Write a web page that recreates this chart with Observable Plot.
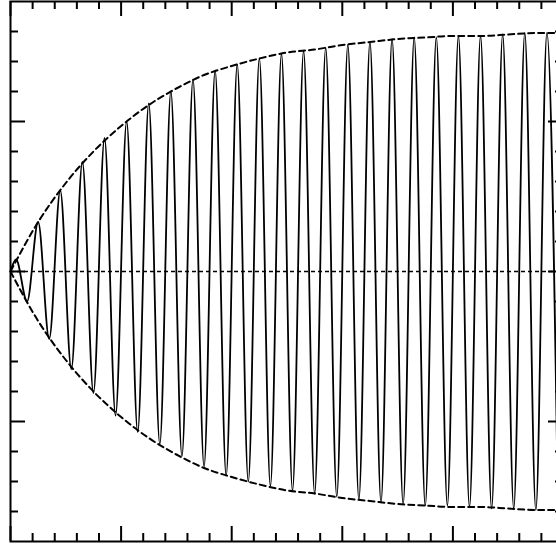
<!DOCTYPE html>
<html>
<head>
<meta charset="utf-8">
<script src="https://cdn.jsdelivr.net/npm/d3@7"></script>
<script src="https://cdn.jsdelivr.net/npm/@observablehq/plot@0.6"></script>
<style>
html, body { margin: 0; padding: 0; background: #fff; overflow: hidden; }
#chart { width: 556px; height: 548px; overflow: hidden; }
#chart svg { max-width: none !important; display: block; }
</style>
</head>
<body>
<div id="chart"></div>
<script>
// Oscillation peaks (times and values)
const peakT = [0.05, 0.25, 0.45, 0.65, 0.85, 1.05, 1.25, 1.45, 1.65, 1.85, 2.05, 2.25, 2.45, 2.65, 2.85, 3.05, 3.25, 3.45, 3.65, 3.85, 4.05, 4.25, 4.45, 4.65, 4.85];
const peakV = [0.08, 0.33, 0.54, 0.73, 0.89, 1.0, 1.12, 1.2, 1.28, 1.34, 1.38, 1.42, 1.45, 1.47, 1.49, 1.51, 1.53, 1.55, 1.56, 1.56, 1.57, 1.57, 1.58, 1.59, 1.59];
// Oscillation troughs
const troughT = [0.15, 0.35, 0.55, 0.75, 0.95, 1.15, 1.35, 1.55, 1.75, 1.95, 2.15, 2.35, 2.55, 2.75, 2.95, 3.15, 3.35, 3.55, 3.75, 3.95, 4.15, 4.35, 4.55, 4.75, 4.95];
const troughV = [-0.2, -0.45, -0.65, -0.81, -0.96, -1.07, -1.15, -1.23, -1.3, -1.36, -1.4, -1.43, -1.46, -1.48, -1.5, -1.52, -1.54, -1.55, -1.56, -1.56, -1.57, -1.58, -1.58, -1.59, -1.59];
// Dashed envelope
const envT = [0, 0.25, 0.5, 0.75, 1, 1.25, 1.5, 1.75, 2, 2.25, 2.5, 2.75, 3, 3.25, 3.5, 3.75, 4, 4.25, 4.5, 4.75, 5];
const envV = [0, 0.33, 0.59, 0.8, 0.97, 1.11, 1.22, 1.31, 1.37, 1.42, 1.46, 1.48, 1.51, 1.53, 1.55, 1.56, 1.57, 1.57, 1.58, 1.59, 1.59];
// Ticks
const xMajor = [0, 1, 2, 3, 4, 5];
const xMinor = [0.2, 0.4, 0.6, 0.8, 1.2, 1.4, 1.6, 1.8, 2.2, 2.4, 2.6, 2.8, 3.2, 3.4, 3.6, 3.8, 4.2, 4.4, 4.6, 4.8];
const yMajor = [-1, 0, 1];
const yMinor = [-1.6, -1.4, -1.2, -0.8, -0.6, -0.4, -0.2, 0.2, 0.4, 0.6, 0.8, 1.2, 1.4, 1.6];

const signal = [{t: 0, v: 0}];
for (let i = 0; i < peakT.length; i++) {
  signal.push({t: peakT[i], v: peakV[i]});
  signal.push({t: troughT[i], v: troughV[i]});
}
const envUpper = envT.map((t, i) => ({t, v: envV[i]}));
const envLower = envT.map((t, i) => ({t, v: -envV[i]}));

const W = 566, H = 548;
const mL = 10, mR = 3, mT = 1, mB = 7;
const frameH = H - mT - mB, frameW = W - mL - mR;
const major = 15, minor = 8;

const chart = Plot.plot({
  width: W,
  height: H,
  marginLeft: mL,
  marginRight: mR,
  marginTop: mT,
  marginBottom: mB,
  x: {domain: [0, 5], axis: null},
  y: {domain: [-1.8, 1.8], axis: null},
  style: {background: "#fff", maxWidth: "none"},
  marks: [
    Plot.ruleY([0], {stroke: "#000", strokeWidth: 1.5, strokeDasharray: "4,3"}),
    Plot.line(signal, {x: "t", y: "v", stroke: "#000", strokeWidth: 1.8, curve: "monotone-x"}),
    Plot.line(envUpper, {x: "t", y: "v", stroke: "#000", strokeWidth: 2, strokeDasharray: "6,4", curve: "monotone-x"}),
    Plot.line(envLower, {x: "t", y: "v", stroke: "#000", strokeWidth: 2, strokeDasharray: "6,4", curve: "monotone-x"}),
    // top & bottom ticks
    Plot.ruleX(xMajor, {x: d => d, stroke: "#000", strokeWidth: 2, insetBottom: frameH - major}),
    Plot.ruleX(xMinor, {x: d => d, stroke: "#000", strokeWidth: 2, insetBottom: frameH - minor}),
    Plot.ruleX(xMajor, {x: d => d, stroke: "#000", strokeWidth: 2, insetTop: frameH - major}),
    Plot.ruleX(xMinor, {x: d => d, stroke: "#000", strokeWidth: 2, insetTop: frameH - minor}),
    // left & right ticks
    Plot.ruleY(yMajor, {y: d => d, stroke: "#000", strokeWidth: 2, insetRight: frameW - major}),
    Plot.ruleY(yMinor, {y: d => d, stroke: "#000", strokeWidth: 2, insetRight: frameW - minor}),
    Plot.ruleY(yMajor, {y: d => d, stroke: "#000", strokeWidth: 2, insetLeft: frameW - major}),
    Plot.ruleY(yMinor, {y: d => d, stroke: "#000", strokeWidth: 2, insetLeft: frameW - minor}),
    Plot.frame({stroke: "#000", strokeWidth: 2})
  ]
});
document.getElementById("chart").appendChild(chart);
</script>
</body>
</html>
